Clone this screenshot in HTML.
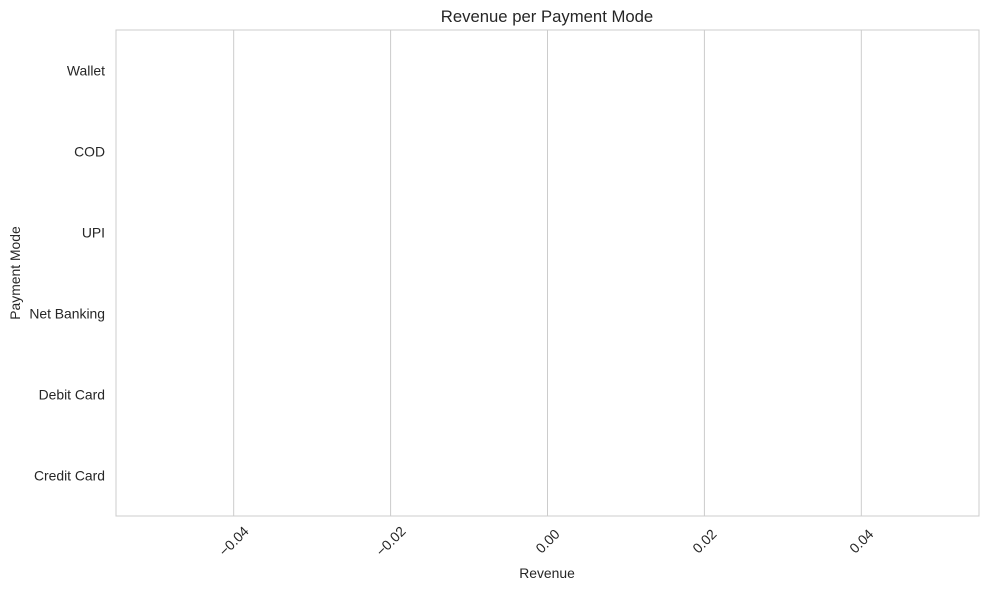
<!DOCTYPE html>
<html><head><meta charset="utf-8"><style>
body{margin:0;background:#fff;}
svg text{font-family:"Liberation Sans","DejaVu Sans",sans-serif;fill:#262626;}
</style></head><body>
<svg width="990" height="590">
<g id="grid"></g>
<rect x="116" y="30" width="863" height="486" fill="none" stroke="#cccccc" stroke-width="1"/>
<g id="bars"></g>
<g id="yticks"></g>
<g id="xticks"></g>
<text x="547" y="22" text-anchor="middle" font-size="16.7">Revenue per Payment Mode</text>
<text x="547" y="578" text-anchor="middle" font-size="13.9">Revenue</text>
<text x="20" y="273" text-anchor="middle" font-size="13.9" transform="rotate(-90 20 273)">Payment Mode</text>
</svg>
<script>
const categories=["Wallet","COD","UPI","Net Banking","Debit Card","Credit Card"];
const revenues=[0,0,0,0,0,0];
const xTicks=[-0.04,-0.02,0,0.02,0.04];
const xTickLabels=["−0.04","−0.02","0.00","0.02","0.04"];
const NS="http://www.w3.org/2000/svg";
const L=116,R=979,T=30,B=516,xmin=-0.055,xmax=0.055;
const xs=v=>L+(v-xmin)/(xmax-xmin)*(R-L);
const band=(B-T)/categories.length;
const yc=i=>T+band*(i+0.5);
const grid=document.getElementById('grid'),xt=document.getElementById('xticks'),yt=document.getElementById('yticks'),bars=document.getElementById('bars');
xTicks.forEach((v,i)=>{
 const x=xs(v);
 const l=document.createElementNS(NS,'line');
 l.setAttribute('x1',x);l.setAttribute('x2',x);l.setAttribute('y1',T);l.setAttribute('y2',B);
 l.setAttribute('stroke','#cccccc');
 
 
 grid.appendChild(l);
 const t=document.createElementNS(NS,'text');
 t.setAttribute('x',x);t.setAttribute('y',546);t.setAttribute('text-anchor','middle');t.setAttribute('font-size','13.9');
 t.setAttribute('transform','rotate(-45 '+x+' 541)');
 t.textContent=xTickLabels[i];
 
 
 xt.appendChild(t);
});
categories.forEach((c,i)=>{
 const t=document.createElementNS(NS,'text');
 t.setAttribute('x',105);t.setAttribute('y',yc(i)+5);t.setAttribute('text-anchor','end');t.setAttribute('font-size','13.9');
 t.textContent=c;
 
 
 yt.appendChild(t);
 const v=revenues[i];
 const r=document.createElementNS(NS,'rect');
 r.setAttribute('x',Math.min(xs(0),xs(v)));r.setAttribute('width',Math.abs(xs(v)-xs(0)));
 r.setAttribute('y',yc(i)-band*0.4);r.setAttribute('height',band*0.8);
 r.setAttribute('fill','#4c72b0');
 
 
 bars.appendChild(r);
});
</script>
</body></html>
